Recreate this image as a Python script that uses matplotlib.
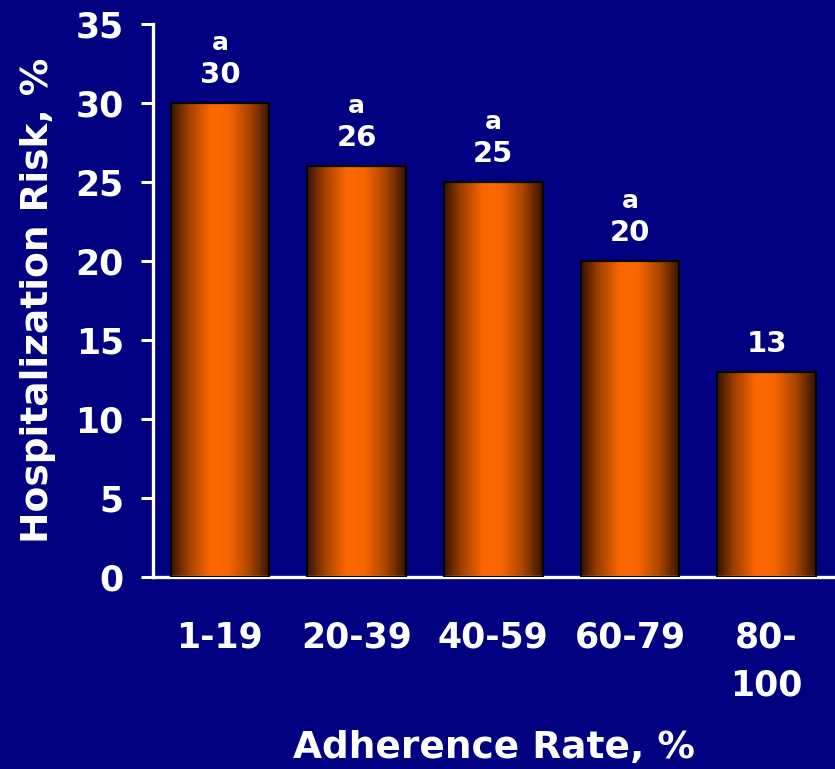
import numpy as np
import matplotlib
matplotlib.use("Agg")
import matplotlib.pyplot as plt
from matplotlib.colors import LinearSegmentedColormap

# data
groups = ["1-19", "20-39", "40-59", "60-79", "80-\n100"]
risk = [30, 26, 25, 20, 13]
flags = ["a", "a", "a", "a", ""]

navy = "#000080"
plt.rcParams["font.family"] = "DejaVu Sans"
plt.rcParams["font.weight"] = "bold"

# horizontal shading for the bars: dark edges, bright orange middle
shade = LinearSegmentedColormap.from_list("shade", [
    (0.00, "#361300"),
    (0.16, "#983c00"),
    (0.40, "#ff6800"),
    (0.58, "#f86600"),
    (0.80, "#a84400"),
    (1.00, "#361300"),
])

fig = plt.figure(figsize=(8.35, 7.69), dpi=100, facecolor=navy)
ax = fig.add_axes([0.1832, 0.2497, 0.8168, 0.7191], facecolor=navy)

x = np.arange(len(groups))
width = 0.72
bars = ax.bar(x, risk, width=width, facecolor="none", edgecolor="black",
              linewidth=1.6, zorder=3)

grad = np.linspace(0, 1, 256).reshape(1, -1)
for b in bars:
    x0, y0 = b.get_x(), b.get_y()
    im = ax.imshow(grad, cmap=shade, aspect="auto", zorder=2,
                   extent=[x0, x0 + b.get_width(), y0, y0 + b.get_height()])
    im.set_clip_path(b)

for xi, v, f in zip(x, risk, flags):
    ax.annotate(str(v), (xi, v), xytext=(0, 20), textcoords="offset points",
                ha="center", va="center", color="white", fontsize=21,
                fontweight="bold")
    if f:
        ax.annotate(f, (xi, v), xytext=(0, 43), textcoords="offset points",
                    ha="center", va="center", color="white", fontsize=18,
                    fontweight="bold")

ax.set_xlim(-0.49, 4.5)
ax.set_ylim(0, 35)
ax.set_yticks(range(0, 36, 5))
ax.set_xticks(x)
ax.set_xticklabels(groups, linespacing=1.52)

ax.tick_params(axis="y", colors="white", labelsize=25, length=9, width=2.2,
               pad=12, direction="out")
ax.tick_params(axis="x", colors="white", labelsize=25, length=0, pad=31)
for lbl in ax.get_xticklabels() + ax.get_yticklabels():
    lbl.set_fontweight("bold")

for side in ("top", "right"):
    ax.spines[side].set_visible(False)
for side in ("left", "bottom"):
    ax.spines[side].set_color("white")
    ax.spines[side].set_linewidth(2.4)

ax.set_xlabel("Adherence Rate, %", color="white", fontsize=27,
              fontweight="bold", va="center")
ax.set_ylabel("Hospitalization Risk, %", color="white", fontsize=27,
              fontweight="bold", va="center")
ax.xaxis.set_label_coords(0.5, -0.309)
ax.yaxis.set_label_coords(-0.168, 0.5)

fig.savefig("out.png", dpi=100, facecolor=navy)
